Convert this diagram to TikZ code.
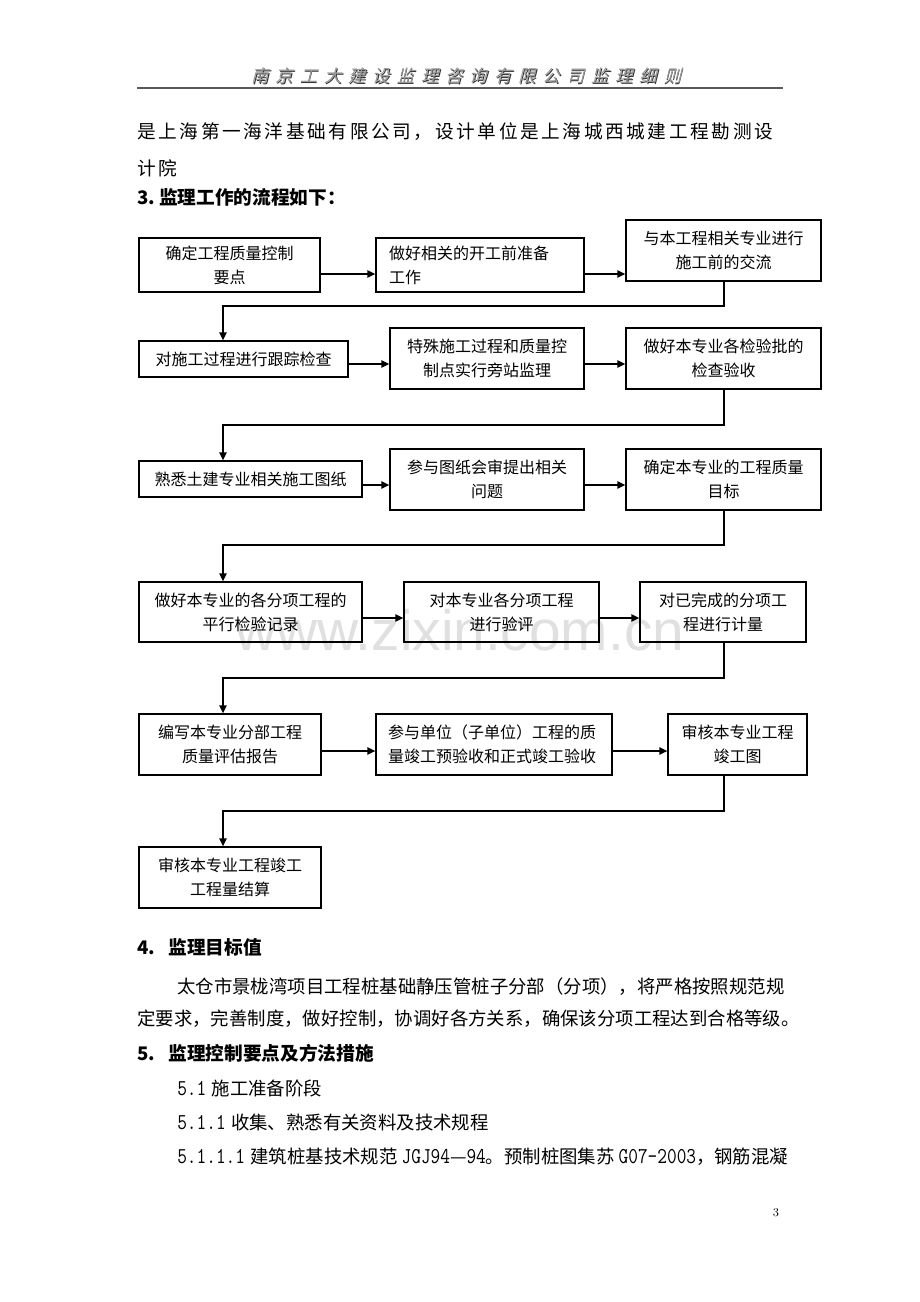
\documentclass[tikz,border=0pt]{standalone}
\usepackage{fontspec}
\usepackage{graphicx}
\newfontfamily\cjk{Noto Sans CJK SC}
\newfontfamily\cjksp[LetterSpace=14]{Noto Sans CJK SC}
\newfontfamily\hdrfont[FakeSlant=0.25,LetterSpace=40]{Noto Sans CJK SC}
\newfontfamily\wmfont{Liberation Sans}
\usetikzlibrary{arrows.meta,calc}
\newcommand\mono[1]{\scalebox{0.83}[1]{\fontsize{17}{18}\selectfont\ttfamily #1}}
\tikzset{
  box/.style={draw, line width=1pt, inner sep=0pt, align=center,
    font=\cjk\fontsize{12}{18}\selectfont},
  bw/.style={minimum width=#1*0.75pt},
  bh/.style={minimum height=#1*0.75pt},
  arr/.style={line width=1pt, -{Triangle[length=6pt,width=5.5pt]}},
  txt/.style={anchor=west, inner sep=0pt, font=\cjk\fontsize{13.8}{16}\selectfont},
  head/.style={anchor=west, inner sep=0pt, font=\cjk\bfseries\fontsize{14}{16}\selectfont},
}
\begin{document}
\begin{tikzpicture}[x=0.75pt,y=-0.75pt]
\path[use as bounding box, fill=white] (0,0) rectangle (920,1302);

% watermark
\node[anchor=base, inner sep=0pt, text=black!12, font=\wmfont\fontsize{42.6}{50}\selectfont] (wm) at (460,650) {www.zixin.com.cn};

% header
\node[inner sep=0pt, text=black!80, font=\hdrfont\fontsize{13}{15}\selectfont] (hdrs) at (467.3,76.8) {南京工大建设监理咨询有限公司监理细则};
\node[inner sep=0pt, text=black!40, font=\hdrfont\fontsize{13}{15}\selectfont] (hdr) at (466.5,76) {南京工大建设监理咨询有限公司监理细则};
\coordinate (hl) at (137,88);
\coordinate (hr) at (783,88);
\draw[line width=1.5pt, black!65] (hl) -- (hr);

% intro text
\node[txt, font=\cjksp\fontsize{14}{16}\selectfont] (p1) at (137,132) {是上海第一海洋基础有限公司，设计单位是上海城西城建工程勘测设};
\node[txt, font=\cjksp\fontsize{14}{16}\selectfont] (p2) at (137,168) {计院};
\node[head] (h3) at (137,197) {3.\hspace{3pt}监理工作的流程如下：};

% flowchart boxes
\node[box,bw=181,bh=54] (A) at (229.5,265) {确定工程质量控制\\要点};
\node[box,bw=208,bh=54,align=left,inner xsep=9.75pt,text width=136.5pt] (B) at (480,265) {做好相关的开工前准备\\工作};
\node[box,bw=195,bh=61] (C) at (723.5,250.5) {与本工程相关专业进行\\施工前的交流};

\node[box,bw=209,bh=36] (D) at (243.5,359) {对施工过程进行跟踪检查};
\node[box,bw=194,bh=61] (E) at (487,358.5) {特殊施工过程和质量控\\制点实行旁站监理};
\node[box,bw=195,bh=61] (F) at (723.5,358.5) {做好本专业各检验批的\\检查验收};

\node[box,bw=223,bh=36] (G) at (250.5,479) {熟悉土建专业相关施工图纸};
\node[box,bw=194,bh=61] (H) at (487,479.5) {参与图纸会审提出相关\\问题};
\node[box,bw=195,bh=61] (I) at (723.5,479.5) {确定本专业的工程质量\\目标};

\node[box,bw=223,bh=60] (J) at (250.5,612) {做好本专业的各分项工程的\\平行检验记录};
\node[box,bw=195,bh=60] (K) at (501.5,612) {对本专业各分项工程\\进行验评};
\node[box,bw=166,bh=60] (L) at (723,612) {对已完成的分项工\\程进行计量};

\node[box,bw=182,bh=61] (M) at (230,744.5) {编写本专业分部工程\\质量评估报告};
\node[box,bw=236,bh=61,align=left,inner xsep=9pt,text width=159pt] (N) at (494,744.5) {参与单位（子单位）工程的质\\量竣工预验收和正式竣工验收};
\node[box,bw=139,bh=61] (O) at (737.5,744.5) {审核本专业工程\\竣工图};

\node[box,bw=182,bh=61] (P) at (230,877.5) {审核本专业工程竣工\\工程量结算};

% horizontal arrows
\draw[arr] (A.east |- 0,274) -- (B.west |- 0,274);
\draw[arr] (B.east |- 0,274) -- (C.west |- 0,274);
\draw[arr] (D.east |- 0,364) -- (E.west |- 0,364);
\draw[arr] (E.east |- 0,364) -- (F.west |- 0,364);
\draw[arr] (G.east |- 0,485) -- (H.west |- 0,485);
\draw[arr] (H.east |- 0,485) -- (I.west |- 0,485);
\draw[arr] (J.east |- 0,618) -- (K.west |- 0,618);
\draw[arr] (K.east |- 0,618) -- (L.west |- 0,618);
\draw[arr] (M.east |- 0,751) -- (N.west |- 0,751);
\draw[arr] (N.east |- 0,751) -- (O.west |- 0,751);

% row-to-row connectors
\draw[arr] (C.south -| 724,0) -- (724,306) -| (D.north -| 223,0);
\draw[arr] (F.south -| 724,0) -- (724,425) -| (G.north -| 223,0);
\draw[arr] (I.south -| 724,0) -- (724,545) -| (J.north -| 223,0);
\draw[arr] (L.south -| 724,0) -- (724,678) -| (M.north -| 223,0);
\draw[arr] (O.south -| 724,0) -- (724,811) -| (P.north -| 223,0);

% following text
\node[head] (h4) at (137,947) {4.\hspace{10pt}监理目标值};
\node[txt] (t1) at (177,987) {太仓市景栊湾项目工程桩基础静压管桩子分部（分项），将严格按照规范规};
\node[txt] (t2) at (137,1019) {定要求，完善制度，做好控制，协调好各方关系，确保该分项工程达到合格等级。};
\node[head] (h5) at (137,1053) {5.\hspace{10pt}监理控制要点及方法措施};
\node[txt] (s1) at (177,1088) {\mono{5.1}\hspace{4pt}施工准备阶段};
\node[txt] (s2) at (177,1122) {\mono{5.1.1}\hspace{4pt}收集、熟悉有关资料及技术规程};
\node[txt] (s3) at (177,1157) {\mono{5.1.1.1}\hspace{4pt}建筑桩基技术规范\hspace{3pt}\mono{JGJ94}—\mono{94}。预制桩图集苏\hspace{3pt}\mono{G07-2003}，钢筋混凝};

% page number
\node[inner sep=0pt, font=\fontsize{9}{10}\selectfont] (pg) at (776,1213) {3};
\end{tikzpicture}
\end{document}
